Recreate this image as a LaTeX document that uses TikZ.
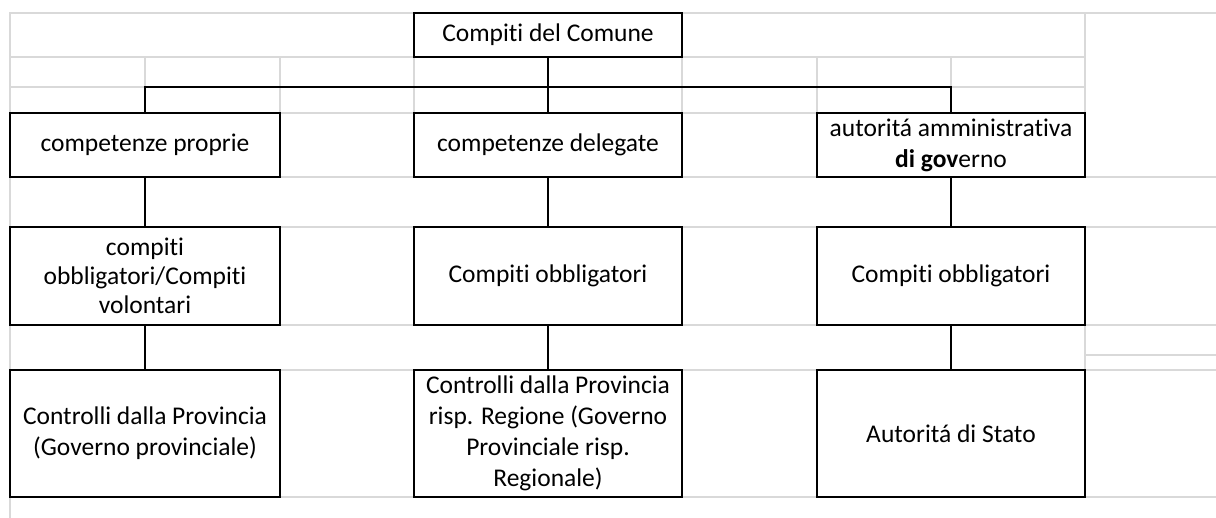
\documentclass[tikz,border=0pt]{standalone}
\usepackage{fontspec}
\setmainfont{Carlito}[Ligatures=NoCommon]

\tikzset{
  cell/.style={draw=black, line width=2pt, fill=white, align=center,
    inner sep=2pt, font=\fontsize{25.5}{31}\selectfont},
  link/.style={draw=black, line width=2pt},
  sheetline/.style={draw=black!15, line width=1.3pt}
}

\begin{document}
\begin{tikzpicture}[
  x=1pt, y=-1pt,  % one unit = one pixel of the sheet, y going down
  every path/.style={line cap=rect, line join=miter}
]
\useasboundingbox (0,0) rectangle (1216,518);

% ---------------- Sheet grid (background) ----------------
\foreach \r in {13,177,227,325,370,497} {
  \draw[sheetline] (10,\r) -- (1216,\r);
}
\foreach \r in {57,87,113} {
  \draw[sheetline] (10,\r) -- (1085,\r);
}
\draw[sheetline] (1085,355) -- (1216,355);
\draw[sheetline] (10,13) -- (10,518);
\foreach \c in {145,280,414,548,682,817,951} {
  \draw[sheetline] (\c,57) -- (\c,113);
}
\draw[sheetline] (1085,13) -- (1085,113);
\draw[sheetline] (1085,325) -- (1085,370);

% ---------------- Top ----------------
\node[cell, minimum width=268, minimum height=44] (comune) at (548,35) {Compiti del Comune};

% ---------------- Second row ----------------
\node[cell, minimum width=270, minimum height=64] (proprie) at (145,145) {competenze proprie};
\node[cell, minimum width=268, minimum height=64] (delegate) at (548,145) {competenze delegate};
\node[cell, minimum width=268, minimum height=64, inner sep=0pt] (governo) at (951,145)
  {autoritá amministrativa\\\textbf{di gov}erno};

% ---------------- Third row ----------------
\node[cell, minimum width=270, minimum height=98, inner sep=0pt,
  font=\fontsize{25.5}{29}\selectfont] (volontari) at (145,276)
  {compiti\\obbligatori/Compiti\\volontari};
\node[cell, minimum width=268, minimum height=98] (obblig2) at (548,276) {Compiti obbligatori};
\node[cell, minimum width=268, minimum height=98] (obblig3) at (951,276) {Compiti obbligatori};

% ---------------- Fourth row ----------------
\node[cell, minimum width=270, minimum height=127] (provincia) at (145,433.5)
  {Controlli dalla Provincia\\(Governo provinciale)};
\node[cell, minimum width=268, minimum height=127, inner sep=0pt] (regione) at (548,433.5)
  {Controlli dalla Provincia\\risp. Regione (Governo\\Provinciale risp.\\Regionale)};
\node[cell, minimum width=268, minimum height=127] (stato) at (951,433.5) {Autoritá di Stato};

% ---------------- Connectors ----------------
\coordinate (bus) at (548,87);
\draw[link] (comune.south) -- (delegate.north);
\draw[link] (proprie.north) |- (bus) -| (governo.north);
\draw[link] (proprie.south) -- (volontari.north);
\draw[link] (delegate.south) -- (obblig2.north);
\draw[link] (governo.south) -- (obblig3.north);
\draw[link] (volontari.south) -- (provincia.north);
\draw[link] (obblig2.south) -- (regione.north);
\draw[link] (obblig3.south) -- (stato.north);

\end{tikzpicture}
\end{document}
